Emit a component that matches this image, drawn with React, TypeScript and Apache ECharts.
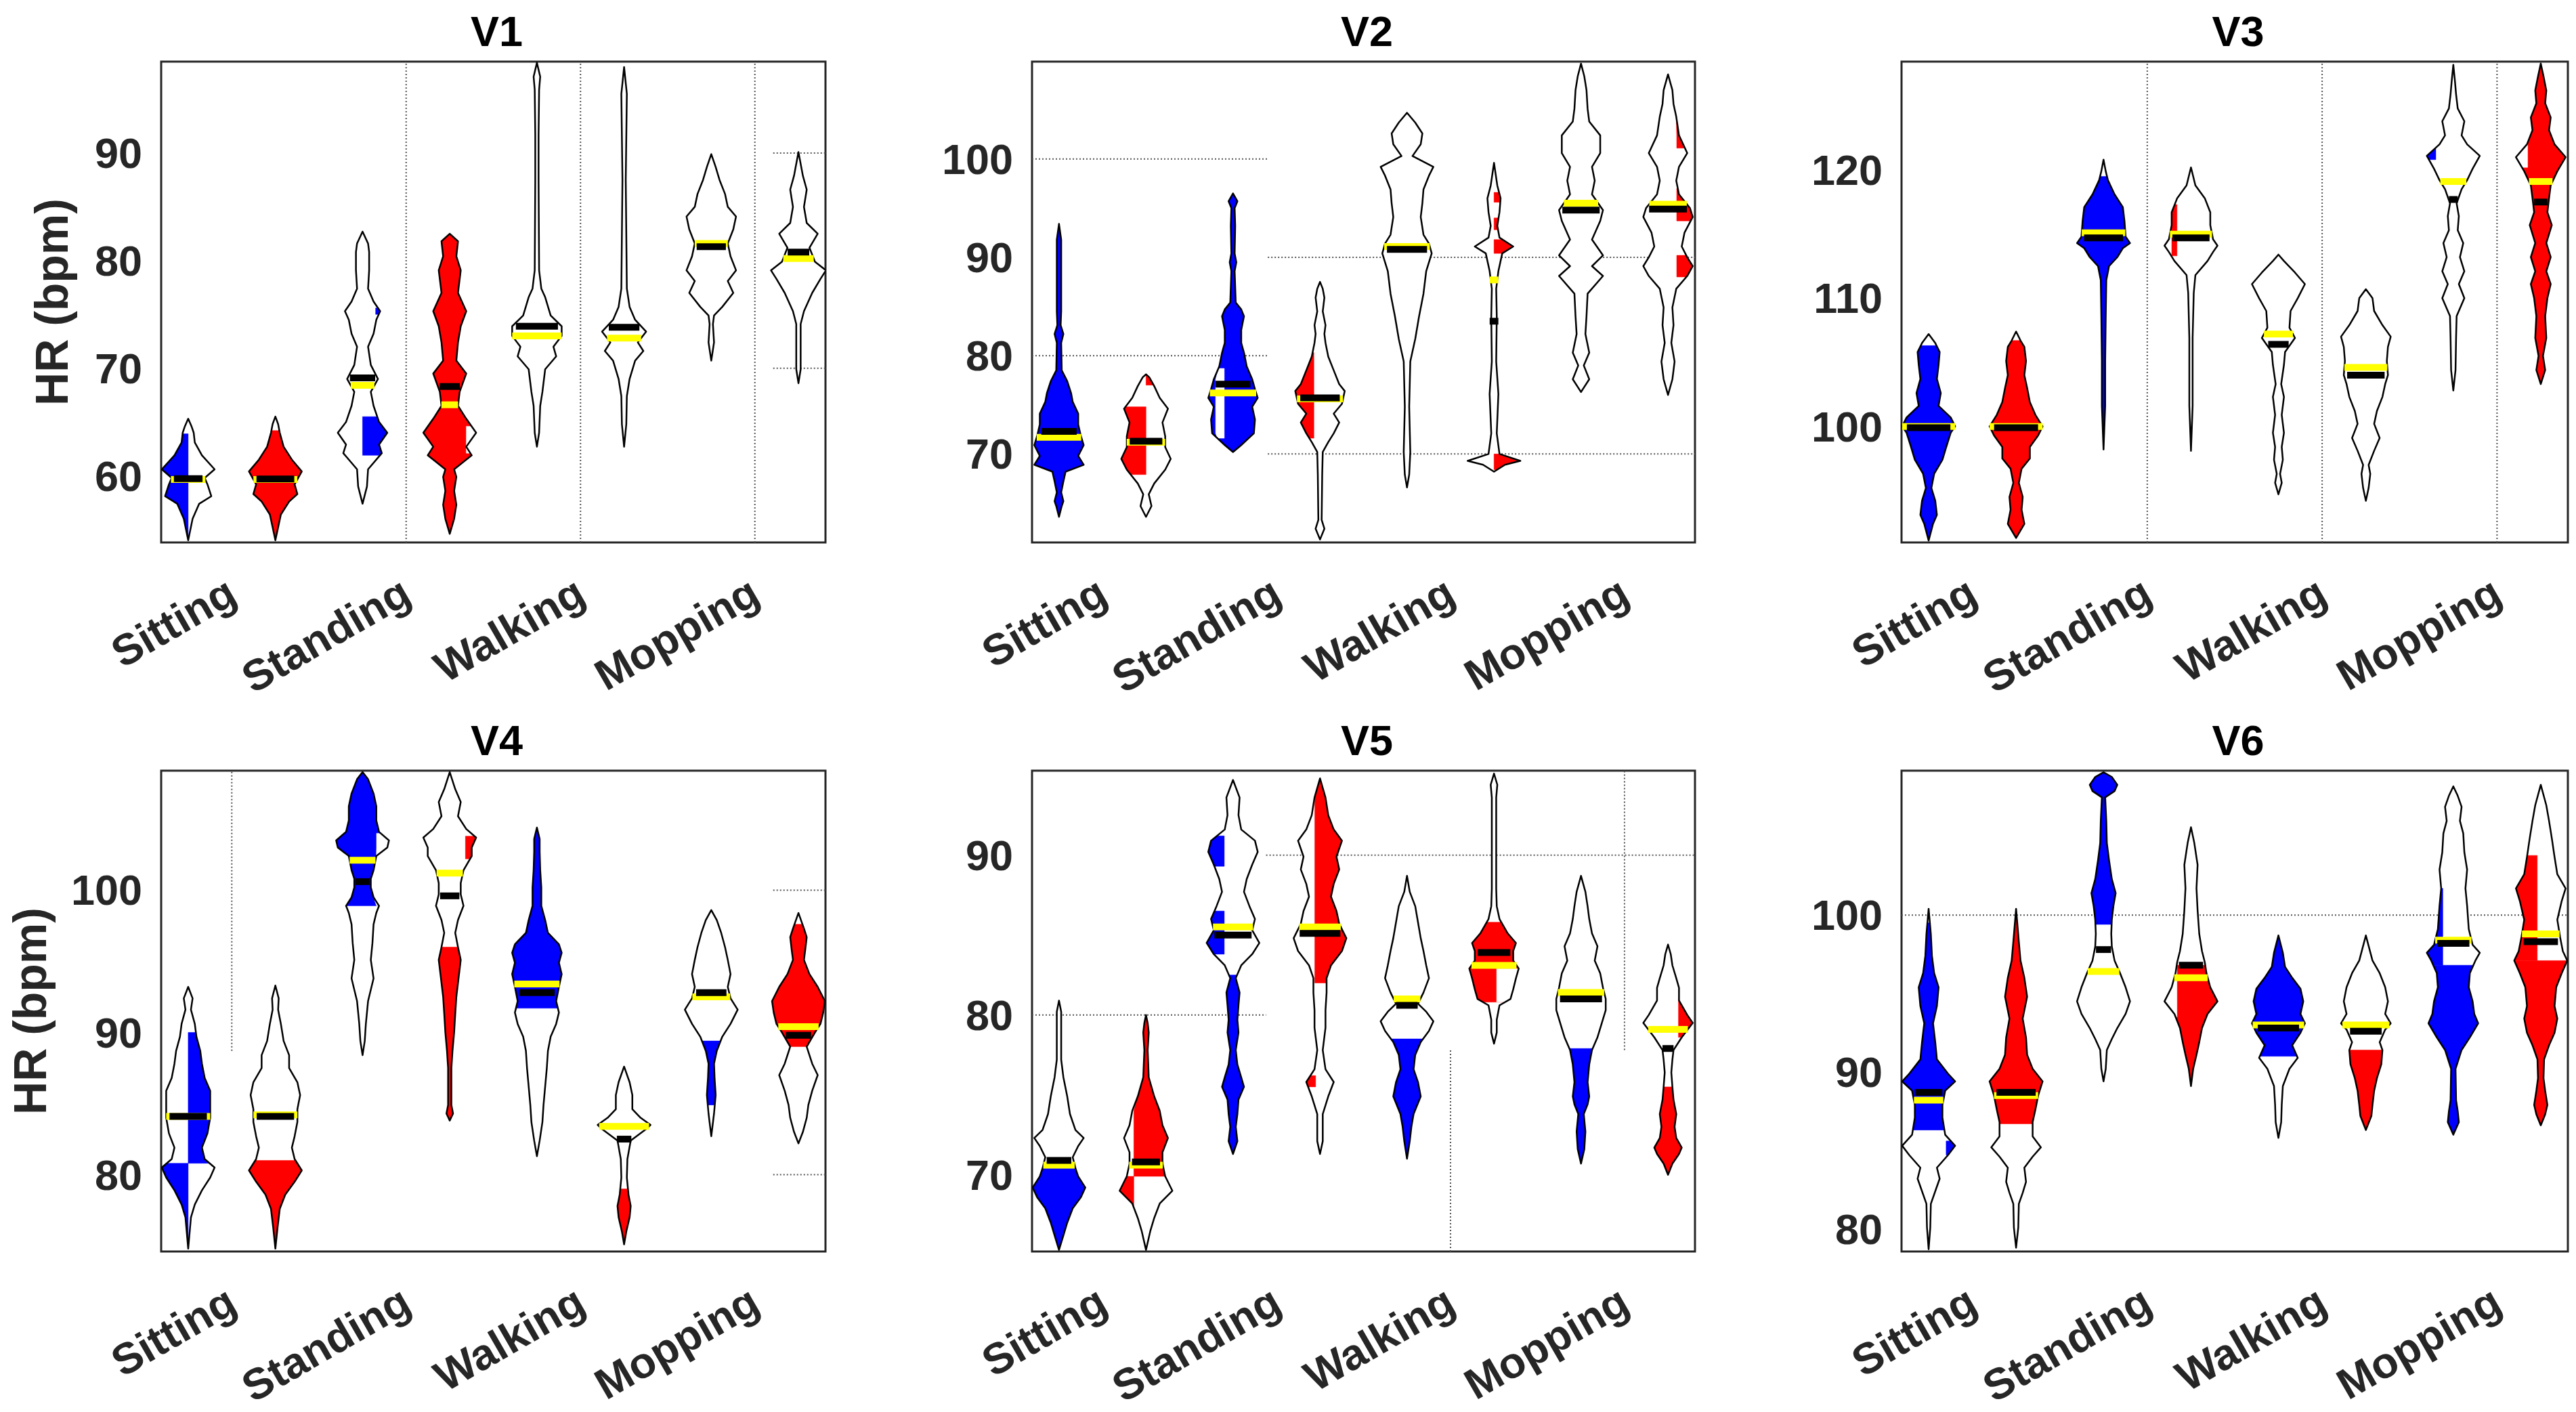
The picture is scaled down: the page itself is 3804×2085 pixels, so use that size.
import React, { useEffect, useRef } from "react";
import * as echarts from "echarts";

// ---- data ----
const ACTIVITIES = ["Sitting", "Standing", "Walking", "Mopping"];
const ACTIVITY_TICKS = [1.5, 3.5, 5.5, 7.5];
const X_RANGE = [0.69, 8.31];

// violin outlines: [HR, density] pairs, bottom to top (density in px of the original plot)
const V1_SHAPES = [
  [[54.0,0],[56.0,8],[57.4,20],[58.1,42],[59.2,35],[59.8,30],[60.6,48],[61.9,25],[63.1,12],[64.0,10],[64.6,6],[65.3,0]],
  [[54.0,0],[56.4,10],[57.6,25],[58.3,40],[59.2,35],[60.4,48],[61.5,30],[62.7,15],[64.0,8],[64.8,5],[65.5,0]],
  [[57.4,0],[59.0,8],[60.6,10],[62.1,35],[62.9,30],[64.0,45],[65.0,30],[66.5,20],[67.8,15],[69.0,28],[70.3,15],[72.0,10],[73.2,20],[74.5,25],[75.3,32],[76.2,20],[77.4,10],[79.1,12],[80.8,12],[81.6,10],[82.7,0]],
  [[54.6,0],[56.0,8],[57.3,12],[58.6,8],[59.9,12],[60.6,8],[61.9,40],[62.7,30],[64.0,48],[65.3,30],[66.5,15],[67.8,18],[69.5,30],[70.7,12],[72.4,15],[73.9,20],[75.3,30],[77.0,15],[79.1,20],[80.4,12],[81.8,15],[82.5,0]],
  [[62.7,0],[64.0,4],[66.5,6],[67.8,10],[69.9,15],[71.1,35],[72.0,30],[73.0,45],[73.9,45],[74.9,25],[76.6,15],[77.4,8],[79.1,4],[87.5,3],[91.7,3],[95.9,4],[97.1,6],[98.4,0]],
  [[62.7,0],[64.8,4],[67.4,5],[69.0,10],[70.7,20],[71.6,35],[72.4,25],[73.4,40],[74.5,20],[75.7,10],[77.4,5],[87.5,3],[95.5,5],[98.0,0]],
  [[70.7,0],[72.4,5],[74.1,3],[74.9,5],[75.7,20],[77.0,40],[78.1,30],[79.1,45],[80.4,35],[81.6,30],[82.9,40],[84.1,45],[85.0,30],[86.2,25],[87.5,15],[88.7,8],[89.9,0]],
  [[68.6,0],[69.9,4],[74.1,4],[75.3,10],[77.0,25],[78.3,40],[79.1,50],[79.9,30],[81.2,20],[82.5,35],[83.5,15],[85.0,10],[86.6,15],[87.9,8],[90.1,0]],
];
// coloured parts: [fromHR, toHR, fromDx, toDx, colour]
const V1_FILLS = [
  [[54.0,63.9,-1,0,"B"]],
  [[54.0,64.2,-1,1,"R"]],
  [[61.9,65.5,0,1,"B"],[75.0,75.6,0.15,1,"B"]],
  [[54.6,82.5,-1,1,"R"],[62.1,64.6,0.19,1,"W"]],
  [], [], [], [],
];
const V1_MEDIANS = [59.73, 59.7, 69.1, 68.3, 73.9, 73.8, 81.3, 80.8];
const V1_MEANS = [59.65, 59.65, 68.4, 66.6, 73.0, 72.8, 81.6, 80.2];
const V1_GRID = [[3.5,53.8,3.5,98.5],[5.5,53.8,5.5,98.5],[7.5,53.8,7.5,98.5],[7.71,90,8.31,90],[7.71,70,8.31,70]];

const V2_SHAPES = [
  [[63.6,0],[64.7,5],[65.2,8],[66.1,4],[67.2,8],[68.2,12],[68.9,45],[69.8,35],[70.9,45],[71.8,40],[73.0,35],[74.1,35],[75.3,25],[76.2,22],[77.4,15],[78.5,5],[81.3,4],[82.2,8],[83.1,3],[84.5,4],[87.2,4],[91.8,4],[93.4,0]],
  [[63.6,0],[64.7,10],[65.9,5],[67.0,15],[68.4,35],[69.5,45],[70.7,35],[71.8,35],[73.2,30],[74.6,40],[75.7,25],[76.9,15],[77.8,6],[78.1,0]],
  [[70.2,0],[70.9,15],[72.1,38],[73.5,40],[74.8,35],[75.7,45],[76.6,40],[77.6,35],[78.9,25],[80.3,20],[81.3,15],[82.6,15],[84.0,20],[84.7,15],[85.4,5],[88.6,3],[89.5,6],[90.4,3],[93.2,4],[95.0,3],[95.7,8],[96.5,0]],
  [[61.3,0],[62.4,8],[63.3,3],[67.9,4],[70.2,5],[71.2,15],[72.1,25],[73.2,35],[74.1,25],[75.1,40],[76.4,45],[77.1,35],[78.5,25],[79.9,15],[81.3,10],[82.2,8],[83.1,10],[84.5,5],[85.9,8],[86.8,5],[87.5,0]],
  [[66.6,0],[67.9,4],[70.2,6],[74.8,4],[79.4,6],[81.7,15],[84.0,22],[86.3,30],[88.6,35],[90.4,45],[91.4,40],[92.3,30],[94.1,25],[95.5,28],[96.9,30],[98.3,40],[99.2,48],[100.3,10],[101.5,25],[102.6,28],[103.7,15],[104.7,0]],
  [[68.2,0],[68.9,20],[69.3,48],[70.0,10],[72.1,5],[76.1,8],[79.4,4],[84.0,5],[86.8,4],[88.6,8],[90.4,15],[91.1,35],[92.0,10],[93.2,6],[94.6,10],[96.0,12],[97.3,6],[99.6,0]],
  [[76.3,0],[77.6,15],[79.0,5],[80.3,15],[82.2,8],[84.0,10],[86.3,12],[88.1,40],[89.1,20],[90.2,40],[91.8,20],[93.7,35],[94.8,40],[96.4,20],[97.8,25],[99.2,20],[100.6,35],[102.4,35],[103.8,15],[105.1,12],[107.0,10],[108.4,6],[109.7,0]],
  [[76.0,0],[77.6,8],[79.4,12],[81.3,6],[83.1,10],[84.9,8],[86.8,15],[88.1,35],[89.1,45],[90.0,35],[91.1,25],[92.5,30],[94.1,45],[95.0,40],[96.4,20],[97.8,15],[99.2,20],[100.6,35],[102.4,20],[104.3,15],[105.6,10],[107.0,8],[108.6,0]],
];
const V2_FILLS = [
  [[63.6,93.4,-1,1,"B"]],
  [[67.9,74.8,-1,0,"R"],[77.0,78.1,0,1,"R"]],
  [[70.2,96.5,-1,1,"B"],[71.6,78.7,-0.2,-0.1,"W"]],
  [[71.6,80.3,-1,-0.07,"R"]],
  [],
  [[68.4,70.0,0,1,"R"],[90.4,91.8,0,1,"R"],[92.8,94.0,0,1,"R"],[95.6,96.6,0,1,"R"]],
  [],
  [[88.0,90.2,0.1,1,"R"],[93.7,97.0,0.1,1,"R"],[101.1,104.3,0.1,1,"R"]],
];
const V2_MEDIANS = [72.3, 71.3, 77.1, 75.7, 90.8, 83.5, 94.8, 94.9];
const V2_MEANS = [71.7, 71.2, 76.2, 75.6, 91.1, 87.7, 95.5, 95.4];
const V2_GRID = [[0.69,100,3.4,100],[0.69,80,3.4,80],[3.4,90,8.31,90],[3.4,70,8.31,70]];

const V3_SHAPES = [
  [[91.1,0],[92.4,8],[93.1,15],[94.2,12],[95.2,5],[96.3,10],[97.4,25],[98.4,32],[99.5,40],[100.0,48],[100.7,40],[101.6,18],[102.6,22],[103.7,15],[104.8,18],[105.8,20],[106.5,12],[107.2,0]],
  [[91.3,0],[92.4,15],[93.5,10],[94.5,12],[95.6,5],[96.7,10],[97.5,25],[98.4,25],[99.3,40],[100.0,48],[100.9,35],[101.9,25],[103.0,20],[104.0,15],[105.1,18],[106.2,15],[106.7,8],[107.4,0]],
  [[98.2,0],[101.6,3],[105.1,3],[108.6,4],[111.4,5],[112.5,10],[113.2,25],[113.9,35],[114.3,48],[114.8,40],[116.0,38],[117.1,35],[118.1,20],[119.2,8],[119.9,4],[120.8,0]],
  [[98.1,0],[101.6,3],[106.9,3],[110.4,5],[111.8,8],[112.9,30],[113.6,40],[114.1,48],[114.6,40],[115.7,35],[116.7,35],[117.8,25],[118.8,8],[120.2,0]],
  [[94.7,0],[95.6,6],[96.3,3],[97.4,8],[98.4,6],[99.5,10],[100.9,6],[102.3,10],[103.3,5],[104.8,10],[105.8,12],[106.9,30],[107.7,20],[109.0,22],[110.0,35],[111.1,48],[112.0,30],[112.9,10],[113.4,0]],
  [[94.2,0],[95.2,5],[96.3,8],[97.0,5],[98.1,15],[99.1,25],[100.2,15],[101.2,20],[102.3,30],[103.3,35],[104.0,40],[105.1,38],[106.2,40],[107.0,45],[107.9,30],[109.0,15],[110.0,12],[110.7,0]],
  [[102.8,0],[104.4,4],[106.9,5],[108.6,6],[110.0,20],[111.1,10],[112.1,20],[113.2,12],[114.3,18],[115.3,8],[116.4,10],[117.4,6],[118.5,15],[119.2,25],[120.1,35],[121.1,48],[122.0,25],[122.7,15],[123.8,20],[124.8,8],[125.9,5],[126.9,3],[128.2,0]],
  [[103.3,0],[104.4,8],[105.5,4],[106.9,10],[108.6,8],[110.0,12],[111.1,18],[112.1,10],[113.2,18],[114.3,10],[115.7,20],[116.7,12],[117.8,15],[118.8,18],[119.9,30],[121.0,45],[122.0,25],[123.1,15],[124.1,18],[125.2,8],[126.2,10],[127.3,5],[128.3,0]],
];
const V3_FILLS = [
  [[91.1,106.3,-1,1,"B"]],
  [[91.3,106.7,-1,1,"R"]],
  [[98.2,119.5,-1,1,"B"]],
  [[113.3,117.3,-0.22,-0.16,"R"]],
  [], [],
  [[120.8,121.7,-1,-0.2,"B"]],
  [[103.3,128.3,-1,1,"R"],[120.2,122.0,-1,-0.15,"W"]],
];
const V3_MEDIANS = [99.9, 99.9, 114.7, 114.7, 106.4, 104.0, 117.7, 117.5];
const V3_MEANS = [100.0, 100.0, 115.1, 115.0, 107.2, 104.6, 119.1, 119.1];
const V3_GRID = [[3.5,90.95,3.5,128.45],[5.5,90.95,5.5,128.45],[7.5,90.95,7.5,128.45]];

const V4_SHAPES = [
  [[74.8,0],[77.0,5],[77.9,12],[78.9,25],[79.8,40],[80.5,48],[81.1,30],[81.9,25],[82.9,35],[84.0,40],[84.9,40],[85.9,40],[86.8,30],[87.8,25],[88.7,22],[89.7,15],[90.6,12],[91.6,5],[92.4,8],[93.2,0]],
  [[74.8,0],[76.3,4],[77.6,8],[78.6,18],[79.5,35],[80.3,48],[81.1,35],[81.9,30],[82.7,35],[83.7,40],[84.6,40],[85.6,45],[86.5,40],[87.5,25],[88.4,25],[89.4,15],[90.6,10],[91.6,5],[92.4,6],[93.3,0]],
  [[88.4,0],[89.4,4],[90.6,6],[92.2,10],[93.8,20],[95.1,15],[96.3,18],[97.6,20],[98.4,25],[98.9,30],[99.5,20],[100.2,15],[100.8,15],[101.4,20],[102.4,25],[103.0,45],[103.5,48],[104.1,30],[104.9,25],[105.9,25],[106.8,20],[107.8,10],[108.3,0]],
  [[83.8,0],[84.3,6],[84.9,3],[85.9,3],[87.5,3],[88.7,5],[90.0,8],[91.3,10],[92.5,12],[93.8,16],[95.1,20],[96.0,15],[97.0,10],[97.9,15],[98.9,25],[99.7,20],[100.5,20],[101.4,25],[102.4,40],[103.0,40],[103.7,48],[104.3,30],[105.2,15],[106.2,20],[107.1,10],[108.3,0]],
  [[81.3,0],[82.4,5],[83.7,10],[84.9,12],[86.2,15],[87.5,18],[88.7,20],[89.7,25],[90.6,35],[91.4,40],[92.2,35],[93.2,40],[94.1,45],[94.9,40],[95.6,45],[96.2,40],[97.0,20],[97.9,15],[98.9,8],[100.2,8],[101.4,6],[102.7,5],[103.6,5],[104.4,0]],
  [[75.1,0],[76.0,4],[77.0,10],[77.8,12],[78.6,8],[79.8,5],[81.1,6],[82.4,12],[83.2,40],[83.5,48],[84.0,30],[84.6,15],[85.6,15],[86.5,10],[87.6,0]],
  [[82.7,0],[84.3,5],[85.6,8],[86.8,6],[87.8,5],[88.7,10],[89.7,20],[90.6,35],[91.6,48],[92.4,35],[93.2,30],[94.1,35],[95.1,30],[96.0,25],[97.0,18],[97.9,10],[98.6,0]],
  [[82.2,0],[83.0,8],[84.0,15],[84.9,18],[85.9,25],[87.0,35],[87.8,25],[88.4,20],[89.0,15],[90.0,30],[90.6,40],[91.4,45],[92.2,48],[93.2,35],[94.1,20],[95.1,10],[95.7,12],[96.7,15],[97.3,10],[98.4,0]],
];
const V4_FILLS = [
  [[74.8,80.8,-1,0,"B"],[80.8,90.0,0,1,"B"]],
  [[74.8,81.0,-1,1,"R"]],
  [[98.9,108.3,-1,1,"B"],[98.9,104.0,0.16,1,"W"]],
  [[83.8,96.0,-1,1,"R"],[102.2,103.8,0.18,1,"R"]],
  [[91.7,104.4,-1,1,"B"]],
  [[75.1,79.0,-1,1,"R"]],
  [[84.9,89.4,-1,1,"B"]],
  [[89.0,97.6,-1,1,"R"]],
];
const V4_MEDIANS = [84.1, 84.1, 100.6, 99.6, 92.8, 82.5, 92.8, 89.8];
const V4_MEANS = [84.1, 84.2, 102.1, 101.2, 93.4, 83.4, 92.5, 90.4];
const V4_GRID = [[1.5,88.7,1.5,108.4],[7.71,100,8.31,100],[7.71,80,8.31,80]];

const V5_SHAPES = [
  [[65.3,0],[66.2,8],[67.0,15],[67.9,25],[68.6,40],[69.2,48],[69.9,35],[70.4,30],[71.1,25],[71.8,35],[72.3,45],[72.8,30],[73.8,20],[74.9,15],[76.1,8],[77.2,4],[79.5,4],[80.2,4],[80.9,0]],
  [[65.3,0],[66.5,8],[67.3,15],[68.2,25],[69.0,48],[69.9,35],[70.7,30],[71.4,30],[72.3,40],[73.1,30],[74.0,25],[74.9,15],[76.1,5],[77.8,3],[78.9,5],[79.5,3],[80.0,0]],
  [[71.3,0],[72.1,8],[73.0,5],[73.8,8],[74.7,10],[75.5,20],[76.1,15],[76.9,8],[77.8,5],[78.9,10],[79.7,8],[80.6,10],[81.4,12],[82.3,5],[83.1,15],[83.8,35],[84.5,48],[85.3,35],[86.0,40],[86.8,30],[87.7,20],[88.5,25],[89.4,35],[90.2,45],[90.9,40],[91.6,15],[92.5,10],[93.6,12],[94.7,0]],
  [[71.3,0],[72.1,5],[73.8,5],[74.9,15],[75.8,25],[76.6,10],[77.8,5],[79.2,10],[80.3,10],[81.4,12],[82.3,12],[83.1,20],[84.0,40],[84.8,48],[85.7,35],[86.5,30],[87.4,20],[88.2,25],[89.1,35],[89.9,30],[90.9,40],[91.6,25],[92.5,15],[93.6,10],[94.8,0]],
  [[71.0,0],[72.1,5],[73.0,8],[73.8,12],[74.9,25],[75.8,20],[76.6,12],[77.5,15],[78.3,25],[79.0,40],[79.6,48],[80.2,35],[80.7,20],[81.4,30],[82.3,40],[83.1,35],[84.0,30],[84.8,25],[85.8,20],[86.8,15],[87.7,5],[88.7,0]],
  [[78.2,0],[78.9,5],[79.7,5],[80.6,10],[81.0,30],[81.6,35],[82.3,40],[82.9,45],[83.4,35],[84.0,35],[84.5,40],[85.1,25],[86.0,10],[86.8,5],[87.9,4],[90.8,4],[93.6,4],[94.4,6],[95.1,0]],
  [[70.7,0],[71.6,6],[72.7,8],[73.8,5],[74.4,12],[74.9,15],[75.8,12],[76.9,15],[77.8,20],[78.6,30],[79.5,38],[80.3,45],[81.0,45],[81.7,40],[82.6,35],[83.4,25],[84.3,30],[85.1,20],[86.0,15],[86.8,12],[87.7,8],[88.7,0]],
  [[70.0,0],[70.7,8],[71.3,20],[71.7,25],[72.3,15],[73.0,12],[73.8,15],[74.7,10],[75.5,8],[76.4,6],[77.2,8],[77.8,10],[78.6,25],[79.5,45],[80.0,35],[80.9,20],[81.7,20],[82.3,15],[83.1,8],[83.8,5],[84.4,0]],
];
const V5_FILLS = [
  [[65.3,70.4,-1,1,"B"]],
  [[68.0,69.9,-1,-0.14,"R"],[69.9,74.9,-0.14,1,"R"],[74.9,80.0,-1,1,"R"]],
  [[71.3,82.5,-1,1,"B"],[83.8,86.5,-1,-0.1,"B"],[89.3,91.2,-1,-0.1,"B"]],
  [[82.0,94.8,-0.06,1,"R"],[75.5,76.2,-1,-0.05,"R"]],
  [[71.0,78.5,-1,1,"B"]],
  [[80.8,85.8,-1,1,"R"],[80.8,82.9,0.03,1,"W"]],
  [[70.7,77.9,-1,1,"B"]],
  [[70.0,75.5,-1,1,"R"],[78.6,81.0,0.12,1,"R"]],
];
const V5_MEDIANS = [70.9, 70.8, 85.0, 85.1, 80.6, 83.9, 81.0, 77.9];
const V5_MEANS = [70.6, 70.6, 85.5, 85.5, 81.0, 83.1, 81.4, 79.1];
const V5_GRID = [[0.69,80,3.38,80],[3.38,90,8.31,90],[5.5,65.2,5.5,77.8],[7.5,77.8,7.5,95.28]];

const V6_SHAPES = [
  [[78.7,0],[80.1,3],[81.6,4],[82.4,12],[83.2,20],[83.9,15],[84.7,35],[85.3,48],[86.0,30],[87.1,25],[87.9,25],[88.8,30],[89.4,48],[89.9,35],[90.8,15],[91.9,12],[93.1,8],[94.2,15],[95.4,18],[96.3,10],[97.4,6],[98.8,4],[100.4,0]],
  [[78.8,0],[80.1,4],[81.6,5],[82.3,12],[83.0,18],[83.9,15],[84.6,30],[85.2,45],[85.9,30],[86.8,30],[87.6,35],[88.5,40],[89.4,48],[90.2,30],[91.1,20],[92.2,18],[93.4,12],[94.8,20],[96.0,15],[97.1,8],[98.3,5],[100.4,0]],
  [[89.4,0],[90.2,4],[91.4,6],[92.1,15],[92.8,25],[93.7,40],[94.5,48],[95.4,40],[96.3,30],[97.1,20],[98.0,15],[98.8,14],[99.7,15],[100.6,18],[101.4,22],[102.3,15],[103.5,10],[104.6,6],[106.0,5],[107.5,3],[107.9,20],[108.3,25],[108.8,15],[109.1,0]],
  [[89.1,0],[90.2,4],[91.1,10],[91.9,15],[92.8,20],[93.7,30],[94.5,48],[95.4,35],[96.3,28],[97.0,25],[97.7,20],[98.8,15],[100.3,12],[101.7,10],[103.2,12],[104.6,6],[105.6,0]],
  [[85.8,0],[86.8,5],[87.9,6],[89.1,8],[90.2,20],[90.9,35],[91.7,25],[92.5,40],[93.1,48],[93.7,40],[94.5,45],[95.3,40],[96.0,25],[96.7,12],[97.6,8],[98.7,0]],
  [[86.3,0],[87.2,10],[87.9,12],[88.8,15],[89.6,20],[90.5,28],[91.4,30],[91.9,25],[92.7,35],[93.1,45],[93.7,35],[94.5,40],[95.4,35],[96.3,25],[97.1,12],[98.7,0]],
  [[86.0,0],[86.8,10],[87.5,8],[88.2,5],[90.2,4],[91.4,15],[92.2,30],[93.1,45],[93.7,38],[94.5,35],[95.4,28],[96.3,30],[97.1,40],[97.6,48],[98.1,35],[99.1,28],[100.6,25],[101.7,22],[102.9,25],[104.0,20],[105.2,18],[106.0,12],[106.9,15],[107.6,8],[108.2,0]],
  [[86.6,0],[87.3,8],[87.9,12],[88.8,8],[89.6,5],[90.8,6],[91.7,15],[92.5,25],[93.4,30],[94.2,25],[95.4,28],[96.3,38],[97.1,48],[97.7,40],[98.6,35],[99.7,30],[100.9,38],[101.7,45],[102.6,30],[103.7,25],[104.9,20],[106.0,15],[107.0,10],[108.3,0]],
];
const V6_FILLS = [
  [[86.3,99.5,-1,1,"B"],[84.7,85.6,0.2,1,"B"]],
  [[86.7,99.8,-1,1,"R"]],
  [[99.4,109.1,-1,1,"B"]],
  [[89.4,96.8,-1,1,"R"],[93.5,96.8,-1,-0.16,"W"]],
  [[91.0,98.7,-1,1,"B"]],
  [[86.3,91.4,-1,1,"R"]],
  [[86.0,96.8,-1,1,"B"],[96.8,101.7,-1,-0.12,"B"]],
  [[86.6,97.1,-1,1,"R"],[97.1,103.8,-1,-0.04,"R"]],
];
const V6_MEDIANS = [88.7, 88.7, 97.8, 96.8, 92.8, 92.6, 98.2, 98.3];
const V6_MEANS = [88.2, 88.5, 96.4, 96.0, 93.0, 93.0, 98.4, 98.8];
const V6_GRID = [[0.69,100,8.31,100]];

const Y_RANGES = [[53.8, 98.5], [61, 109.9], [90.95, 128.45], [74.6, 108.4], [65.2, 95.28], [78.56, 109.2]];
const Y_TICKS = [[60, 70, 80, 90], [70, 80, 90, 100], [100, 110, 120], [80, 90, 100], [70, 80, 90], [80, 90, 100]];
const TITLES = ["V1", "V2", "V3", "V4", "V5", "V6"];
const Y_NAMES = ["HR (bpm)", "", "", "HR (bpm)", "", ""];

const PANELS = [
  { shapes: V1_SHAPES, fills: V1_FILLS, medians: V1_MEDIANS, means: V1_MEANS, grid: V1_GRID },
  { shapes: V2_SHAPES, fills: V2_FILLS, medians: V2_MEDIANS, means: V2_MEANS, grid: V2_GRID },
  { shapes: V3_SHAPES, fills: V3_FILLS, medians: V3_MEDIANS, means: V3_MEANS, grid: V3_GRID },
  { shapes: V4_SHAPES, fills: V4_FILLS, medians: V4_MEDIANS, means: V4_MEANS, grid: V4_GRID },
  { shapes: V5_SHAPES, fills: V5_FILLS, medians: V5_MEDIANS, means: V5_MEANS, grid: V5_GRID },
  { shapes: V6_SHAPES, fills: V6_FILLS, medians: V6_MEDIANS, means: V6_MEANS, grid: V6_GRID },
];

// ---- layout / style ----
const BOXES = [
  [238, 91, 981, 710], [1524, 91, 979, 710], [2808, 91, 984, 710],
  [238, 1138, 981, 710], [1524, 1138, 979, 710], [2808, 1138, 984, 710],
];
const NAME_GAPS = [128, 128, 128, 160, 160, 160];
const FONT = "'Liberation Sans', Arial, Helvetica, sans-serif";
const AXIS_COLOR = "#262626";
const COLORS: Record<string, string> = { B: "#0000ff", R: "#ff0000", W: "#ffffff" };
const DENSITY_SCALE = 1 / 158.5; // density px -> x units

const halfWidthAt = (shape: number[][], y: number): number => {
  const n = shape.length;
  if (y <= shape[0][0] || y >= shape[n - 1][0]) return 0;
  for (let i = 0; i < n - 1; i++) {
    const [y0, d0] = shape[i];
    const [y1, d1] = shape[i + 1];
    if (y >= y0 && y <= y1) {
      const t = (y - y0) / (y1 - y0 || 1);
      return (d0 + t * (d1 - d0)) * DENSITY_SCALE;
    }
  }
  return 0;
};

// part of the violin between two HR values and two x offsets
const regionPoints = (shape: number[][], y0: number, y1: number, dx0: number, dx1: number) => {
  const ys = [y0, ...shape.map((p) => p[0]).filter((y) => y > y0 && y < y1), y1];
  const right: number[][] = [];
  const left: number[][] = [];
  ys.forEach((y) => {
    const hw = halfWidthAt(shape, y);
    let l = Math.max(-hw, dx0);
    let r = Math.min(hw, dx1);
    if (r < l) {
      const m = dx0 >= hw ? hw : -hw;
      l = m;
      r = m;
    }
    right.push([r, y]);
    left.push([l, y]);
  });
  return [...right, ...left.reverse()];
};

const App: React.FC = () => {
  const chartRef = useRef<HTMLDivElement>(null);

  useEffect(() => {
    const chartDom = chartRef.current;
    if (!chartDom) return;
    const myChart = echarts.init(chartDom, null, { renderer: "svg" });

    const grids = BOXES.map(([left, top, width, height]) => ({
      left, top, width, height,
      show: true,
      borderColor: AXIS_COLOR,
      borderWidth: 3,
      backgroundColor: "transparent",
    }));

    const xAxes = BOXES.map((_, k) => ({
      gridIndex: k,
      type: "value",
      min: X_RANGE[0],
      max: X_RANGE[1],
      axisLine: { show: false },
      axisTick: { show: false },
      splitLine: { show: false },
      axisLabel: {
        customValues: ACTIVITY_TICKS,
        formatter: (v: number) => ACTIVITIES[Math.round((v - 1.5) / 2)] || "",
        rotate: 30,
        margin: 68,
        fontSize: 64,
        fontWeight: "bold",
        fontFamily: FONT,
        color: AXIS_COLOR,
      },
    }));

    const yAxes = BOXES.map((_, k) => ({
      gridIndex: k,
      type: "value",
      min: Y_RANGES[k][0],
      max: Y_RANGES[k][1],
      name: Y_NAMES[k],
      nameLocation: "middle",
      nameGap: NAME_GAPS[k],
      nameTextStyle: { fontSize: 68, fontWeight: "bold", fontFamily: FONT, color: AXIS_COLOR },
      axisLine: { show: false },
      axisTick: { show: false },
      splitLine: { show: false },
      axisLabel: {
        customValues: Y_TICKS[k],
        margin: 28,
        fontSize: 63,
        fontWeight: "bold",
        fontFamily: FONT,
        color: AXIS_COLOR,
      },
    }));

    const titles = BOXES.map(([left, top, width], k) => ({
      text: TITLES[k],
      left: left + width / 2,
      top: top - 82,
      textAlign: "center",
      textStyle: { fontSize: 63, fontWeight: "bold", fontFamily: FONT, color: "#000" },
    }));

    const series: any[] = [];
    PANELS.forEach((panel, k) => {
      panel.grid.forEach(([x0, y0, x1, y1]) => {
        series.push({
          type: "line",
          xAxisIndex: k,
          yAxisIndex: k,
          data: [[x0, y0], [x1, y1]],
          symbol: "none",
          silent: true,
          z: 1,
          lineStyle: { color: "#555555", width: 2, type: [2, 3] },
        });
      });

      series.push({
        type: "custom",
        xAxisIndex: k,
        yAxisIndex: k,
        z: 2,
        clip: true,
        data: panel.medians.map((m, i) => [i + 1, m]),
        encode: { x: 0, y: 1 },
        renderItem: (params: any, api: any) => {
          const i = params.dataIndex;
          const cx = i + 1;
          const shape = panel.shapes[i];
          const toPx = (pts: number[][]) => pts.map(([dx, y]) => api.coord([cx + dx, y]));
          const yLo = shape[0][0];
          const yHi = shape[shape.length - 1][0];
          const outline = toPx(regionPoints(shape, yLo, yHi, -1, 1));
          const children: any[] = [
            { type: "polygon", shape: { points: outline }, style: { fill: "#ffffff" } },
          ];
          panel.fills[i].forEach(([f0, f1, dx0, dx1, c]: any) => {
            children.push({
              type: "polygon",
              shape: { points: toPx(regionPoints(shape, f0, f1, dx0, dx1)) },
              style: { fill: COLORS[c], stroke: COLORS[c], lineWidth: 0.5 },
            });
          });
          children.push({
            type: "polygon",
            shape: { points: outline },
            style: { fill: "none", stroke: "#000", lineWidth: 2.5, lineJoin: "round" },
          });
          const mean = panel.means[i];
          const med = panel.medians[i];
          const hwMean = Math.max(0.05, halfWidthAt(shape, mean));
          const hwMed = Math.max(0.05, 0.85 * halfWidthAt(shape, med));
          const a = api.coord([cx - hwMean, mean]);
          const b = api.coord([cx + hwMean, mean]);
          children.push({
            type: "line",
            shape: { x1: a[0], y1: a[1], x2: b[0], y2: b[1] },
            style: { stroke: "#ffff00", lineWidth: 10 },
          });
          const c0 = api.coord([cx - hwMed, med]);
          const c1 = api.coord([cx + hwMed, med]);
          children.push({
            type: "line",
            shape: { x1: c0[0], y1: c0[1], x2: c1[0], y2: c1[1] },
            style: { stroke: "#000000", lineWidth: 10 },
          });
          return { type: "group", children };
        },
      });
    });

    const option: any = {
      animation: false,
      backgroundColor: "#ffffff",
      title: titles,
      grid: grids,
      xAxis: xAxes,
      yAxis: yAxes,
      series,
    };

    myChart.setOption(option);

    const handleResize = (): void => {
      myChart.resize();
    };
    window.addEventListener("resize", handleResize);

    return () => {
      window.removeEventListener("resize", handleResize);
      myChart.dispose();
    };
  }, []);

  return (
    <div
      ref={chartRef}
      style={{ position: "absolute", left: 0, top: 0, width: "3804px", height: "2085px", background: "#fff" }}
    />
  );
};

export default App;
